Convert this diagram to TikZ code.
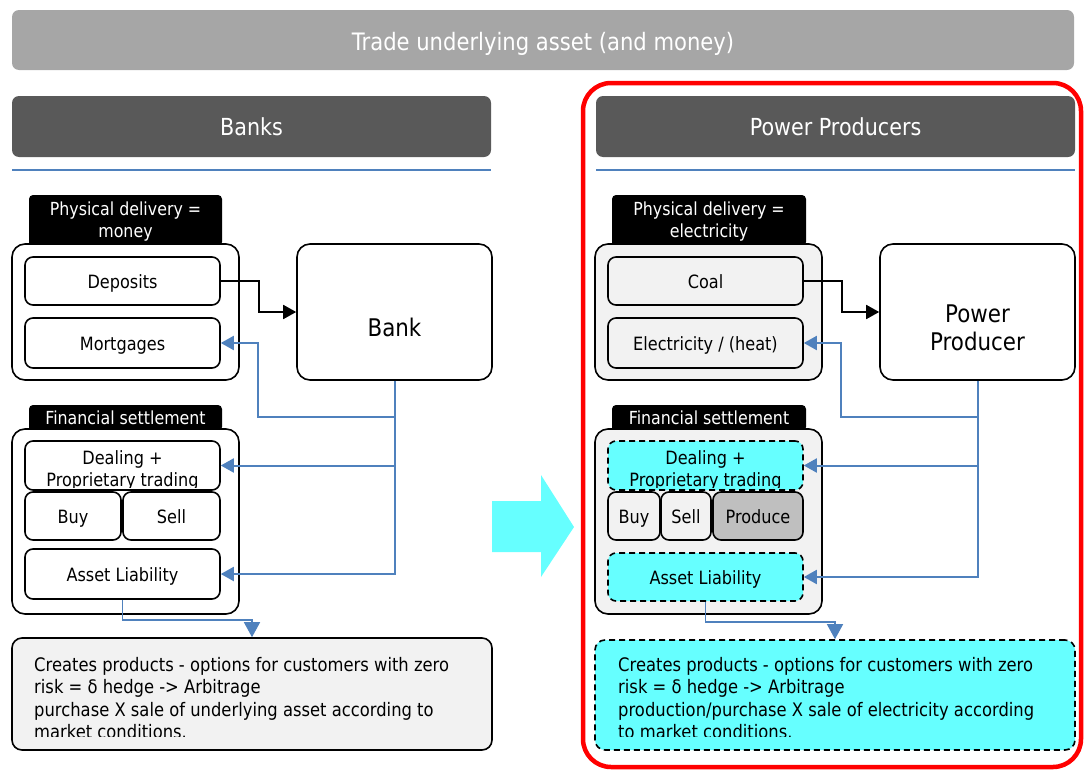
\documentclass[tikz,border=0pt]{standalone}
\usepackage{fontspec}
\setmainfont{DejaVu Sans}[FakeStretch=0.88]
\usetikzlibrary{arrows.meta,calc}
\definecolor{barGray}{HTML}{A6A6A6}
\definecolor{headGray}{HTML}{595959}
\definecolor{paleGray}{HTML}{F2F2F2}
\definecolor{midGray}{HTML}{BFBFBF}
\definecolor{aqua}{HTML}{66FFFF}
\definecolor{linkBlue}{HTML}{4F81BD}
\definecolor{frameRed}{HTML}{FF0000}
\begin{document}
\begin{tikzpicture}[x=1pt,y=-1pt,
  bar/.style={rounded corners=7pt, inner sep=0pt},
  bartext/.style={inner sep=0pt, anchor=base, text=white, font=\fontsize{24}{28}\selectfont},
  headtext/.style={bartext, font=\fontsize{23.5}{28}\selectfont},
  item/.style={draw=black, line width=1.6pt, rounded corners=8pt, fill=white, inner sep=0pt,
    font=\fontsize{18.3}{22}\selectfont, text height=14pt, text depth=0pt},
  dashitem/.style={item, fill=aqua, dash pattern=on 6pt off 4pt},
  group/.style={draw=black, line width=1.6pt, rounded corners=13pt, fill=white, inner sep=0pt},
  tabfill/.style={fill=black, rounded corners=4pt},
  tabtext/.style={text=white, font=\fontsize{18}{22}\selectfont, inner sep=0pt, anchor=base},
  itemtext/.style={inner sep=0pt, anchor=base, font=\fontsize{18.3}{22}\selectfont},
  notetext/.style={inner sep=0pt, anchor=base west, font=\fontsize{18.6}{22}\selectfont},
  bigtext/.style={inner sep=0pt, anchor=base, font=\fontsize{24.3}{29}\selectfont},
  flow/.style={draw=black, line width=1.8pt, -{Triangle[length=13pt,width=14pt]}},
  link/.style={draw=linkBlue, line width=2pt, -{Triangle[length=13pt,width=14pt]}},
  thinlink/.style={draw=linkBlue, line width=1.5pt, -{Triangle[length=15pt,width=16pt]}},
  rule/.style={draw=linkBlue, line width=2pt}
]
\useasboundingbox (0,0) rectangle (1084,771);

% ---------- top banner ----------
\node[bar, fill=barGray, minimum width=1062pt, minimum height=60pt] (trade) at (543,40) {};
\node[bartext] (tradeText) at (543,50) {Trade underlying asset (and money)};

% ---------- column headers ----------
\node[bar, fill=headGray, minimum width=479pt, minimum height=61pt] (banks) at (251.5,126.5) {};
\node[headtext] (banksText) at (251.5,135) {Banks};
\node[bar, fill=headGray, minimum width=479pt, minimum height=61pt] (power) at (835.5,126.5) {};
\node[headtext] (powerText) at (835.5,135) {Power Producers};
\draw[rule] (12,170) -- (491,170);
\draw[rule] (596,170) -- (1075,170);

% ---------- highlight frame ----------
\draw[frameRed, line width=4.5pt, rounded corners=28pt] (583,83) rectangle (1081,767);

% ---------- transition arrow ----------
\fill[aqua] (492,501) -- (541,501) -- (541,475) -- (574,527) -- (541,577) -- (541,552) -- (492,552) -- cycle;

% =============== BANKS ===============
% tabs
\fill[tabfill] (29,246) -- (29,195) -- (222,195) -- (222,246) [sharp corners] -- cycle;
\node[tabtext] (physLa) at (125.5,215) {Physical delivery =};
\node[tabtext] (physLb) at (125.5,237) {money};
\fill[tabfill] (29,431) -- (29,405) -- (222,405) -- (222,431) [sharp corners] -- cycle;
\node[tabtext] (finL) at (125.5,424) {Financial settlement};

% group boxes
\node[group, minimum width=227pt, minimum height=136pt] (physBoxL) at (125.5,312) {};
\node[group, minimum width=227pt, minimum height=185pt] (finBoxL) at (125.5,521.5) {};

% items
\node[item, minimum width=195pt, minimum height=48pt] (dep) at (122.5,281) {Deposits};
\node[item, minimum width=195pt, minimum height=50pt] (mort) at (122.5,343) {Mortgages};
\node[item, minimum width=195pt, minimum height=49pt] (dealL) at (122.5,465.5) {};
\begin{scope}
  \clip (20,436) rectangle (226,487);
  \node[itemtext] (dealLa) at (122.5,464) {Dealing +};
  \node[itemtext] (dealLb) at (122.5,486) {Proprietary trading};
\end{scope}
\node[item, minimum width=96pt, minimum height=48pt] (buyL) at (73,516) {Buy};
\node[item, minimum width=97pt, minimum height=48pt] (sellL) at (171.5,516) {Sell};
\node[item, minimum width=195pt, minimum height=50pt] (alL) at (122.5,574) {Asset Liability};

\node[item, minimum width=195pt, minimum height=136pt, rounded corners=13pt] (bank) at (394.5,312) {};
\node[bigtext] (bankText) at (394.5,336) {Bank};

% note
\node[item, fill=paleGray, minimum width=480pt, minimum height=112pt, rounded corners=10pt] (noteL) at (252,694) {};
\begin{scope}
  \clip (14,640) rectangle (490,736);
  \node[notetext] (noteL1) at (34,671) {Creates products - options for customers with zero};
  \node[notetext] (noteL2) at (34,693.5) {risk = δ hedge -> Arbitrage};
  \node[notetext] (noteL3) at (34,716) {purchase X sale of underlying asset according to};
  \node[notetext] (noteL4) at (34,738.5) {market conditions.};
\end{scope}

% connectors
\coordinate (jL) at (258,417);
\draw[flow] (dep.east) -- ++(38,0) |- (bank.west);
\draw[link] (bank.south) |- (jL) |- (mort.east);
\draw[link] (bank.south) |- (dealL.east);
\draw[link] (bank.south) |- (alL.east);
\draw[thinlink] (alL.south) -- ++(0,20) -| (noteL.north);

% =============== POWER PRODUCERS ===============
\fill[tabfill] (612,246) -- (612,195) -- (806,195) -- (806,246) [sharp corners] -- cycle;
\node[tabtext] (physRa) at (709,215) {Physical delivery =};
\node[tabtext] (physRb) at (709,237) {electricity};
\fill[tabfill] (612,431) -- (612,405) -- (806,405) -- (806,431) [sharp corners] -- cycle;
\node[tabtext] (finR) at (709,424) {Financial settlement};

\node[group, fill=paleGray, minimum width=227pt, minimum height=136pt] (physBoxR) at (708.5,312) {};
\node[group, fill=paleGray, minimum width=227pt, minimum height=185pt] (finBoxR) at (708.5,521.5) {};

\node[item, fill=paleGray, minimum width=195pt, minimum height=48pt] (coal) at (705.5,281) {Coal};
\node[item, fill=paleGray, minimum width=195pt, minimum height=50pt] (elec) at (705.5,343) {Electricity / (heat)};
\node[dashitem, minimum width=195pt, minimum height=49pt] (dealR) at (705.5,465.5) {};
\begin{scope}
  \clip (603,436) rectangle (809,487);
  \node[itemtext] (dealRa) at (705.5,464) {Dealing +};
  \node[itemtext] (dealRb) at (705.5,486) {Proprietary trading};
\end{scope}
\node[item, fill=paleGray, minimum width=52pt, minimum height=48pt] (buyR) at (634,516) {Buy};
\node[item, fill=paleGray, minimum width=50pt, minimum height=48pt] (sellR) at (686,516) {Sell};
\node[item, fill=midGray, minimum width=90pt, minimum height=48pt] (produce) at (758,516) {Produce};
\node[dashitem, minimum width=195pt, minimum height=48pt] (alR) at (705.5,577) {Asset Liability};

\node[item, minimum width=195pt, minimum height=136pt, rounded corners=13pt] (pp) at (977.5,312) {};
\node[bigtext] (ppTextA) at (977.5,322) {Power};
\node[bigtext] (ppTextB) at (977.5,350) {Producer};

\node[dashitem, minimum width=480pt, minimum height=110pt, rounded corners=10pt] (noteR) at (835,695) {};
\begin{scope}
  \clip (597,642) rectangle (1073,736);
  \node[notetext] (noteR1) at (618,671) {Creates products - options for customers with zero};
  \node[notetext] (noteR2) at (618,693.5) {risk = δ hedge -> Arbitrage};
  \node[notetext] (noteR3) at (618,716) {production/purchase X sale of electricity according};
  \node[notetext] (noteR4) at (618,738.5) {to market conditions.};
\end{scope}

\coordinate (jR) at (841,417);
\draw[flow] (coal.east) -- ++(38,0) |- (pp.west);
\draw[link] (pp.south) |- (jR) |- (elec.east);
\draw[link] (pp.south) |- (dealR.east);
\draw[link] (pp.south) |- (alR.east);
\draw[thinlink] (alR.south) -- ++(0,20) -| (noteR.north);
\end{tikzpicture}
\end{document}
